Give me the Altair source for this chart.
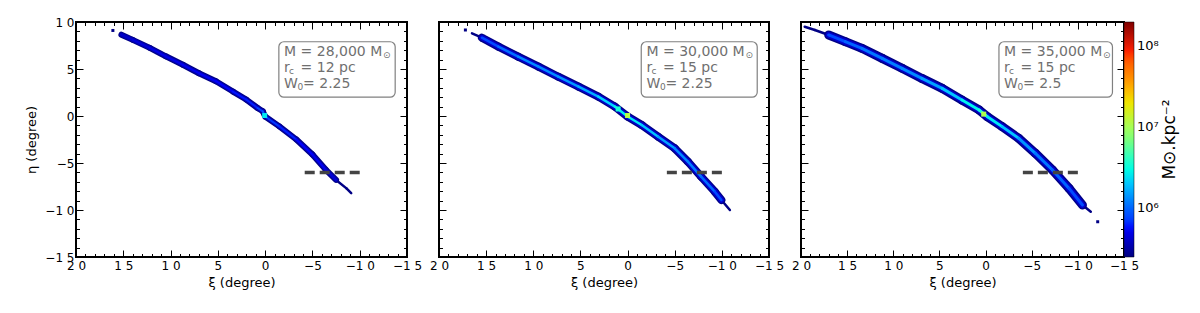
import altair as alt
import numpy as np
import pandas as pd

# ---------------- axis ticks ----------------
XI_MAJOR = [20, 15, 10, 5, 0, -5, -10, -15]
ETA_MAJOR = [10, 5, 0, -5, -10, -15]
XI_MINOR = list(range(-15, 21))
ETA_MINOR = list(range(-15, 11))

# ---------------- colour bar ----------------
CB_TICKS = [1e6, 1e7, 1e8]
CB_LOG_MIN, CB_LOG_MAX = 5.4, 8.3
CB_TITLE = "M⊙.kpc⁻²"
JET = ["#000080", "#0000ff", "#0080ff", "#15ffe2", "#7bff7b",
       "#e2ff15", "#ff9700", "#ff2100", "#800000"]

# ---------------- panel labels ----------------
P_MASS = ["28,000", "30,000", "35,000"]
P_RC = ["12", "15", "15"]
P_W0 = ["2.25", "2.25", "2.5"]

# ---------------- dashed reference line ----------------
DASH_XI = [-10, -4]
DASH_ETA = [-6, -6]

# ---------------- panel 1 stream ----------------
S1_XI = [15.2, 14.0, 12.2, 10.5, 8.7, 7.0, 5.2, 3.4, 2.0, 0.8, 0.25, 0.0, -1.5, -3.3, -5.0, -6.4, -7.5]
S1_ETA = [8.65, 8.1, 7.25, 6.35, 5.45, 4.55, 3.7, 2.6, 1.75, 0.85, 0.5, -0.05, -1.1, -2.5, -4.1, -5.7, -6.8]
S1_CORE = [4.2e5, 4.6e5, 5e5, 5e5, 5.3e5, 5.3e5, 5.6e5, 6e5, 6.2e5, 7.5e5, 9e5, 7e5, 6.2e5, 5.8e5, 5.4e5, 4.6e5]
S1_TAILS = [([-7.5, -8.6, -9.1], [-6.8, -7.7, -8.2])]
S1_DOT_XI, S1_DOT_ETA = [16.1], [9.1]
S1_PEAK_XI, S1_PEAK_ETA, S1_PEAK_D = [0.05], [0.05], [2.6e6]
S1_EDGE, S1_BODY = 2.6e5, 3.6e5

# ---------------- panel 2 stream ----------------
S2_XI = [15.45, 13.7, 11.6, 9.45, 7.35, 5.2, 3.1, 1.35, 0.0, -1.5, -3.25, -5.0, -6.4, -7.8, -9.25, -9.95]
S2_ETA = [8.33, 7.38, 6.31, 5.25, 4.18, 3.12, 2.06, 1.0, -0.05, -0.96, -2.2, -3.44, -4.86, -6.45, -8.05, -8.94]
S2_CORE = [8e5, 1.1e6, 1.4e6, 1.4e6, 1.5e6, 1.7e6, 2.2e6, 2.8e6, 2.6e6, 2e6, 1.6e6, 1.4e6, 1.3e6, 1.1e6, 8e5]
S2_TAILS = [([16.5, 15.45], [8.8, 8.33]), ([-9.95, -10.85], [-8.94, -10.0])]
S2_DOT_XI, S2_DOT_ETA = [17.2], [9.15]
S2_PEAK_XI, S2_PEAK_ETA, S2_PEAK_D = [0.0, 1.0], [0.05, 0.75], [1.2e7, 3.5e6]
S2_EDGE, S2_BODY = 2.6e5, 4.3e5

# ---------------- panel 3 stream ----------------
S3_XI = [17.0, 15.2, 13.4, 11.2, 9.05, 6.9, 4.7, 2.55, 0.7, -0.2, -1.8, -3.6, -5.4, -7.25, -9.05, -10.5]
S3_ETA = [8.62, 7.91, 7.2, 6.13, 5.07, 4.0, 2.94, 1.7, 0.64, -0.07, -1.13, -2.38, -3.97, -5.74, -7.7, -9.47]
S3_CORE = [8e5, 1.0e6, 1.2e6, 1.3e6, 1.4e6, 1.6e6, 2e6, 2.8e6, 3.3e6, 2.6e6, 2e6, 1.5e6, 1.2e6, 1.0e6, 8e5]
S3_TAILS = [([19.6, 18.5, 17.0], [9.5, 9.15, 8.62]), ([-10.5, -11.4], [-9.47, -10.18])]
S3_DOT_XI, S3_DOT_ETA = [-12.15], [-11.25]
S3_PEAK_XI, S3_PEAK_ETA, S3_PEAK_D = [0.2], [0.2], [1.1e7]
S3_EDGE, S3_BODY = 2.6e5, 4.3e5

# ---------------- layout constants ----------------
H = 235
WIDTHS = [331, 330, 323]
BAND = [(6, 4, 2), (8, 5.5, 2.5), (9, 6, 3)]
FONT = "DejaVu Sans"

STREAMS = [
    (S1_XI, S1_ETA, S1_CORE, S1_TAILS, S1_DOT_XI, S1_DOT_ETA, S1_PEAK_XI, S1_PEAK_ETA, S1_PEAK_D, S1_EDGE, S1_BODY),
    (S2_XI, S2_ETA, S2_CORE, S2_TAILS, S2_DOT_XI, S2_DOT_ETA, S2_PEAK_XI, S2_PEAK_ETA, S2_PEAK_D, S2_EDGE, S2_BODY),
    (S3_XI, S3_ETA, S3_CORE, S3_TAILS, S3_DOT_XI, S3_DOT_ETA, S3_PEAK_XI, S3_PEAK_ETA, S3_PEAK_D, S3_EDGE, S3_BODY),
]

XS = alt.Scale(domain=[-15, 20], reverse=True, nice=False, zero=False)
YS = alt.Scale(domain=[-15, 10], nice=False, zero=False)
CS = alt.Scale(type="log", domain=[float(v) for v in np.logspace(CB_LOG_MIN, CB_LOG_MAX, len(JET))], range=JET)

LABEL_EXPR = "replace(replace(join(split(datum.label, ''), ' '), '\u2212 ', '\u2212'), '- ', '-')"


def segs(xs, ys, vals):
    return pd.DataFrame({"x": xs[:-1], "y": ys[:-1], "x2": xs[1:], "y2": ys[1:], "d": vals})


def tick_axis(orient, offset, values, size):
    return alt.Axis(orient=orient, offset=offset, values=values, labels=False, ticks=True,
                    tickSize=size, tickColor="black", tickWidth=1, domain=False, grid=False, title=None)


def make_panel(i):
    W = WIDTHS[i]
    xi, eta, core, tails, dx, dy, px, py, pd_, edge, body = STREAMS[i]
    w_halo, w_body, w_core = BAND[i]
    k = 35.0 / W  # degrees per pixel along xi

    if i == 2:
        legend = alt.Legend(type="gradient", orient="none", legendX=W, legendY=0, direction="vertical",
                            gradientLength=H, gradientThickness=10, title=None,
                            values=CB_TICKS,
                            labelExpr="'10' + ['⁰','¹','²','³','⁴','⁵','⁶','⁷','⁸','⁹'][round(log(datum.value)/LN10)]",
                            labelFontSize=13, labelFont=FONT, labelColor="black", labelOffset=3,
                            padding=0, gradientStrokeColor="black", gradientStrokeWidth=0.5,
                            labelOverlap=False)
    else:
        legend = None

    def col(f="d:Q"):
        if legend is None:
            return alt.Color(f, scale=CS, legend=None)
        return alt.Color(f, scale=CS, legend=legend)

    ax_lab = alt.Axis(orient="bottom", values=XI_MAJOR, labelExpr=LABEL_EXPR, ticks=False, tickSize=0,
                      domain=False, grid=False, labelFontSize=12, labelPadding=3, labelColor="black",
                      labelOverlap=False, labelFlush=False, labelBound=False,
                      title="ξ (degree)", titleFontSize=13, titleFontWeight="normal", titlePadding=5,
                      titleColor="black")
    if i == 0:
        ay_lab = alt.Axis(orient="left", values=ETA_MAJOR, labelExpr=LABEL_EXPR, ticks=False, tickSize=0,
                          domain=False, grid=False, labelFontSize=12, labelPadding=2, labelColor="black",
                          labelOverlap=False, labelFlush=False, labelBound=False,
                          title="η (degree)", titleFontSize=13, titleFontWeight="normal", titlePadding=6,
                          titleColor="black")
    else:
        ay_lab = None

    axes = [
        (ax_lab, ay_lab),
        (tick_axis("top", -H, XI_MAJOR, 7), tick_axis("right", -W, ETA_MAJOR, 7)),
        (tick_axis("top", -H, XI_MINOR, 3.5), tick_axis("right", -W, ETA_MINOR, 3.5)),
        (tick_axis("bottom", -H, XI_MAJOR, 7), tick_axis("left", -W, ETA_MAJOR, 7)),
        (tick_axis("bottom", -H, XI_MINOR, 3.5), tick_axis("left", -W, ETA_MINOR, 3.5)),
    ]

    def xy(j, xf="x:Q", yf="y:Q"):
        if j < len(axes):
            ax, ay = axes[j]
        else:
            ax, ay = None, None
        return dict(x=alt.X(xf, scale=XS, axis=ax), y=alt.Y(yf, scale=YS, axis=ay))

    layers = []
    halo = segs(xi, eta, [edge] * (len(xi) - 1))
    layers.append(alt.Chart(halo).mark_rule(strokeWidth=w_halo, strokeCap="round").encode(
        **xy(0), x2="x2:Q", y2="y2:Q", color=col()))
    tail_df = pd.concat([segs(tx, ty, [edge] * (len(tx) - 1)) for tx, ty in tails], ignore_index=True)
    layers.append(alt.Chart(tail_df).mark_rule(strokeWidth=2.5, strokeCap="round").encode(
        **xy(1), x2="x2:Q", y2="y2:Q", color=col()))
    body_df = segs(xi, eta, [body] * (len(xi) - 1))
    layers.append(alt.Chart(body_df).mark_rule(strokeWidth=w_body, strokeCap="round").encode(
        **xy(2), x2="x2:Q", y2="y2:Q", color=col()))
    core_df = segs(xi, eta, core)
    layers.append(alt.Chart(core_df).mark_rule(strokeWidth=w_core, strokeCap="round").encode(
        **xy(3), x2="x2:Q", y2="y2:Q", color=col()))
    peak_df = pd.DataFrame({"x": px, "y": py, "d": pd_})
    layers.append(alt.Chart(peak_df).mark_point(shape="square", filled=False, size=4, strokeWidth=3,
                                                opacity=1).encode(**xy(4), color=col()))
    dot_df = pd.DataFrame({"x": dx, "y": dy, "d": [edge] * len(dx)})
    layers.append(alt.Chart(dot_df).mark_point(shape="square", filled=False, size=1, strokeWidth=2,
                                               opacity=1).encode(**xy(5), color=col()))
    dash_df = pd.DataFrame({"x": [DASH_XI[0]], "x2": [DASH_XI[1]], "y": [DASH_ETA[0]]})
    layers.append(alt.Chart(dash_df).mark_rule(color="#444444", strokeWidth=3.5, strokeDash=[10, 5]).encode(
        **xy(6), x2="x2:Q"))
    box_df = pd.DataFrame({"x": [-1.45], "x2": [-13.75], "y": [7.9], "y2": [2.0]})
    layers.append(alt.Chart(box_df).mark_rect(fill="white", stroke="#808080", strokeWidth=1.2,
                                              cornerRadius=5).encode(**xy(7), x2="x2:Q", y2="y2:Q"))
    x0 = -2.0
    lines = [6.8, 5.1, 3.4]
    main_df = pd.DataFrame({
        "x": [x0, x0, x0 - 16.5 * k, x0, x0 - 19.0 * k],
        "y": [lines[0], lines[1], lines[1], lines[2], lines[2]],
        "t": ["M = " + P_MASS[i] + " M", "r", "= " + P_RC[i] + " pc", "W", "= " + P_W0[i]],
    })
    layers.append(alt.Chart(main_df).mark_text(align="left", baseline="middle", fontSize=14, font=FONT,
                                               color="#707070").encode(**xy(8), text="t:N"))
    sub_df = pd.DataFrame({
        "x": [x0 - 99 * k, x0 - 5 * k, x0 - 13.5 * k],
        "y": [lines[0] - 0.35, lines[1] - 0.35, lines[2] - 0.35],
        "t": ["⊙", "c", "0"],
    })
    layers.append(alt.Chart(sub_df).mark_text(align="left", baseline="middle", fontSize=9, font=FONT,
                                              color="#707070").encode(**xy(9), text="t:N"))
    if i == 2:
        ttl = pd.DataFrame({"t": [CB_TITLE]})
        layers.append(alt.Chart(ttl).mark_text(angle=270, fontSize=17, font=FONT, color="black",
                                               align="center", baseline="middle").encode(
            x=alt.value(W + 46), y=alt.value(H / 2), text="t:N"))

    return alt.layer(*layers).resolve_axis(x="independent", y="independent").properties(width=W, height=H)


chart = alt.hconcat(make_panel(0), make_panel(1), make_panel(2), spacing=32, bounds="flush").resolve_scale(
    color="independent", x="independent", y="independent"
).configure_view(stroke="black", strokeWidth=2).configure_axis(labelFont=FONT, titleFont=FONT).properties(
    background="white", padding={"left": 16, "top": 7, "right": 5, "bottom": 5}
)

chart.save("out.html", embed_options={"renderer": "svg", "actions": False})
